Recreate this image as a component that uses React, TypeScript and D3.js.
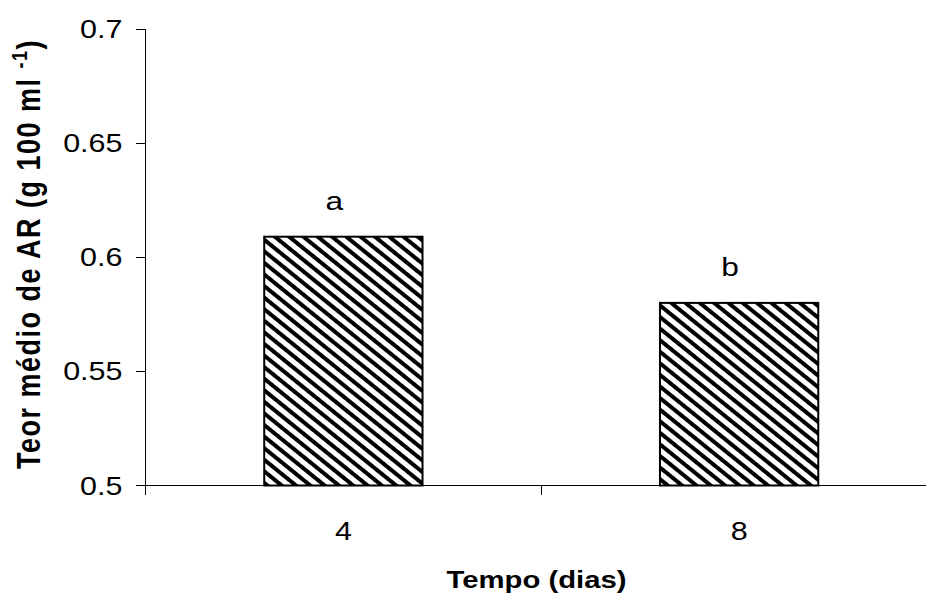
import { useEffect, useRef } from 'react'
import * as d3 from 'd3'

// ── Data ──────────────────────────────────────────────────────────────────────
const DAYS = ['4', '8']
const MEAN_AR = [0.609, 0.58]
const LETTERS = ['a', 'b']
const Y_TICKS = [0.5, 0.55, 0.6, 0.65, 0.7]

const WIDTH = 926
const HEIGHT = 596
const PLOT = { left: 145.5, right: 937, top: 29, bottom: 485.5 }
const FONT = "Arial, 'Liberation Sans', sans-serif"
const SX = 1.22 // glyphs in the source are horizontally stretched

export default function App() {
  const svgRef = useRef<SVGSVGElement>(null)

  useEffect(() => {
    const svg = d3.select(svgRef.current!)
    svg.selectAll('*').remove()

    const x = d3.scaleBand<string>()
      .domain(DAYS)
      .range([PLOT.left, PLOT.right])
      .paddingInner(0.6)
      .paddingOuter(0.3)
    const step = x.step()
    const y = d3.scaleLinear([0.5, 0.7], [PLOT.bottom, PLOT.top])

    // ── Hatch pattern ───────────────────────────────────────────────────────────
    const defs = svg.append('defs')
    const pat = defs.append('pattern')
      .attr('id', 'hatch')
      .attr('patternUnits', 'userSpaceOnUse')
      .attr('width', 20).attr('height', 9)
      .attr('patternTransform', 'rotate(39)')
    pat.append('rect').attr('width', 20).attr('height', 9).attr('fill', '#fff')
    pat.append('rect').attr('y', 0).attr('width', 20).attr('height', 4).attr('fill', '#000')

    // ── Bars ────────────────────────────────────────────────────────────────────
    DAYS.forEach((d, i) => {
      svg.append('rect')
        .attr('x', x(d)!).attr('y', y(MEAN_AR[i]))
        .attr('width', x.bandwidth()).attr('height', y(0.5) - y(MEAN_AR[i]))
        .attr('fill', 'url(#hatch)')
        .attr('stroke', '#000').attr('stroke-width', 2)
    })

    // ── Axes ────────────────────────────────────────────────────────────────────
    const axis = svg.append('g').attr('stroke', '#000').attr('stroke-width', 1)
      .attr('shape-rendering', 'crispEdges')
    axis.append('line')
      .attr('x1', PLOT.left).attr('x2', PLOT.left)
      .attr('y1', y(0.7)).attr('y2', y(0.5))
    axis.append('line')
      .attr('x1', PLOT.left).attr('x2', PLOT.right)
      .attr('y1', y(0.5)).attr('y2', y(0.5))

    Y_TICKS.forEach(t => {
      axis.append('line')
        .attr('x1', PLOT.left - 10).attr('x2', PLOT.left)
        .attr('y1', y(t)).attr('y2', y(t))
      svg.append('text')
        .attr('transform', `translate(${PLOT.left - 23},${y(t)}) scale(${SX},1)`)
        .attr('dy', '0.36em')
        .attr('text-anchor', 'end')
        .attr('font-family', FONT).attr('font-size', 25)
        .text(String(t))
    })

    // category boundary ticks
    ;[0, 1, 2].forEach(k => {
      const tx = PLOT.left + k * step
      axis.append('line')
        .attr('x1', tx).attr('x2', tx)
        .attr('y1', y(0.5)).attr('y2', y(0.5) + 9)
    })

    DAYS.forEach(d => {
      svg.append('text')
        .attr('transform', `translate(${x(d)! + x.bandwidth() / 2},${y(0.5) + 54}) scale(${SX},1)`)
        .attr('text-anchor', 'middle')
        .attr('font-family', FONT).attr('font-size', 25)
        .text(d)
    })

    // ── Significance letters ────────────────────────────────────────────────────
    DAYS.forEach((d, i) => {
      svg.append('text')
        .attr('transform', `translate(${x(d)! + x.bandwidth() / 2 - 9},${y(MEAN_AR[i]) - 27}) scale(${SX},1)`)
        .attr('text-anchor', 'middle')
        .attr('font-family', FONT).attr('font-size', 26)
        .text(LETTERS[i])
    })

    // ── Axis titles ─────────────────────────────────────────────────────────────
    svg.append('text')
      .attr('transform', `translate(536.5,587.5) scale(${SX},1)`)
      .attr('text-anchor', 'middle')
      .attr('font-family', FONT).attr('font-size', 24).attr('font-weight', 'bold')
      .text('Tempo (dias)')

    const yt = svg.append('text')
      .attr('transform', `translate(40,254) rotate(-90) scale(1,${SX})`)
      .attr('text-anchor', 'middle')
      .attr('font-family', FONT).attr('font-size', 27).attr('font-weight', 'bold')
      .attr('letter-spacing', 1.5)
    yt.append('tspan').text('Teor médio de AR (g 100 ml ')
    yt.append('tspan').attr('font-size', 18).attr('dy', -11).text('-1')
    yt.append('tspan').attr('dy', 11).text(')')
  }, [])

  return (
    <div style={{ position: 'absolute', left: 0, top: 0, width: WIDTH, height: HEIGHT, background: '#fff' }}>
      <svg ref={svgRef} width={WIDTH} height={HEIGHT} style={{ display: 'block' }} />
    </div>
  )
}
